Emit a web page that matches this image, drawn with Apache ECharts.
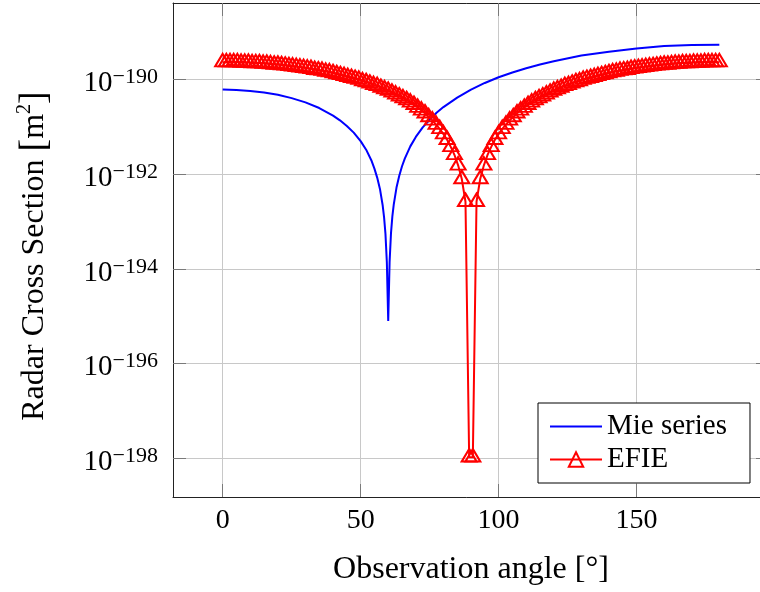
<!DOCTYPE html>
<html><head><meta charset="utf-8">
<script src="https://cdn.jsdelivr.net/npm/echarts@6/dist/echarts.min.js"></script>
<style>html,body{margin:0;padding:0;background:#fff}#c{width:760px;height:592px}</style>
</head><body><div id="c"></div>
<script>
// ---- data (RCS stored as log10 of the value in m^2) ----
const xTicks = [0, 50, 100, 150];
const yTickExponents = [-198, -196, -194, -192, -190];

const mieAngles = [0,5,10,15,20,25,30,35,40,42.5,45,47.5,50,52,54,55,56,57,58,58.5,59,59.5,60,60.5,61,61.5,62,63,64,65,66,68,70,72.5,75,77.5,80,85,90,95,100,105,110,115,120,130,140,150,160,170,180];
const mieLog10 = [-190.21,-190.22,-190.24,-190.27,-190.32,-190.39,-190.48,-190.60,-190.76,-190.86,-190.98,-191.12,-191.30,-191.48,-191.72,-191.88,-192.07,-192.31,-192.66,-192.91,-193.26,-193.86,-195.10,-193.85,-193.25,-192.89,-192.64,-192.28,-192.03,-191.83,-191.67,-191.41,-191.21,-191.01,-190.85,-190.70,-190.58,-190.38,-190.21,-190.07,-189.95,-189.85,-189.76,-189.68,-189.61,-189.49,-189.41,-189.34,-189.29,-189.27,-189.26];

const efieAngles = [0,1.333,2.667,4,5.333,6.667,8,9.333,10.667,12,
13.333,14.667,16,17.333,18.667,20,21.333,22.667,24,25.333,
26.667,28,29.333,30.667,32,33.333,34.667,36,37.333,38.667,
40,41.333,42.667,44,45.333,46.667,48,49.333,50.667,52,
53.333,54.667,56,57.333,58.667,60,61.333,62.667,64,65.333,
66.667,68,69.333,70.667,72,73.333,74.667,76,77.333,78.667,
80,81.333,82.667,84,85.333,86.667,88,89.333,
90.667,92,93.333,94.667,96,97.333,98.667,100,101.333,102.667,
104,105.333,106.667,108,109.333,110.667,112,113.333,114.667,116,
117.333,118.667,120,121.333,122.667,124,125.333,126.667,128,129.333,
130.667,132,133.333,134.667,136,137.333,138.667,140,141.333,142.667,
144,145.333,146.667,148,149.333,150.667,152,153.333,154.667,156,
157.333,158.667,160,161.333,162.667,164,165.333,166.667,168,169.333,
170.667,172,173.333,174.667,176,177.333,178.667,180];
const efieLog10 = [-189.63,-189.63,-189.63,-189.63,-189.63,-189.64,-189.64,-189.64,-189.65,-189.65,
-189.65,-189.66,-189.66,-189.67,-189.68,-189.68,-189.69,-189.70,-189.71,-189.72,
-189.73,-189.74,-189.75,-189.76,-189.77,-189.79,-189.80,-189.81,-189.83,-189.84,
-189.86,-189.88,-189.90,-189.92,-189.94,-189.96,-189.98,-190.00,-190.03,-190.05,
-190.08,-190.11,-190.13,-190.17,-190.20,-190.23,-190.27,-190.31,-190.35,-190.39,
-190.43,-190.48,-190.53,-190.59,-190.65,-190.71,-190.79,-190.86,-190.95,-191.04,
-191.15,-191.27,-191.42,-191.59,-191.81,-192.10,-192.58,-197.98,
-197.98,-192.58,-192.10,-191.81,-191.59,-191.42,-191.27,-191.15,
-191.04,-190.95,-190.86,-190.79,-190.71,-190.65,-190.59,-190.53,-190.48,-190.43,
-190.39,-190.35,-190.31,-190.27,-190.23,-190.20,-190.17,-190.13,-190.11,-190.08,
-190.05,-190.03,-190.00,-189.98,-189.96,-189.94,-189.92,-189.90,-189.88,-189.86,
-189.84,-189.83,-189.81,-189.80,-189.79,-189.77,-189.76,-189.75,-189.74,-189.73,
-189.72,-189.71,-189.70,-189.69,-189.68,-189.68,-189.67,-189.66,-189.66,-189.65,
-189.65,-189.65,-189.64,-189.64,-189.64,-189.63,-189.63,-189.63,-189.63,-189.63];

const seriesNames = ['Mie series', 'EFIE'];
const xName = 'Observation angle [°]';

// ---- chart ----
const FONT = 'Liberation Serif';
const X_MIN = -18, X_MAX = 198, Y_MIN = -198.82, Y_MAX = -188.38;
const chart = echarts.init(document.getElementById('c'), null, {renderer: 'canvas'});
const zip = (a, b) => a.map((v, i) => [v, b[i]]);
const tickStyle = {show: true, inside: true, length: 13, lineStyle: {color: '#7a7a7a', width: 1}};

chart.setOption({
  animation: false,
  backgroundColor: '#fff',
  grid: {left: 173, top: 3, right: -9, bottom: 95, containLabel: false, outerBoundsMode: 'none'},
  legend: {
    data: [{name: seriesNames[0], itemStyle: {opacity: 0}}, {name: seriesNames[1]}],
    orient: 'vertical', left: 538, top: 403,
    padding: [9, 23, 9, 11], itemWidth: 52, itemHeight: 18, itemGap: 4,
    borderColor: '#000', borderWidth: 1, backgroundColor: '#fff',
    textStyle: {fontFamily: FONT, fontSize: 29, color: '#000'}
  },
  xAxis: [{
    type: 'value', min: X_MIN, max: X_MAX, position: 'bottom',
    name: xName, nameLocation: 'middle', nameGap: 57,
    nameTextStyle: {fontFamily: FONT, fontSize: 32, color: '#000'},
    axisLine: {show: true, onZero: false, lineStyle: {color: '#222', width: 1}},
    axisTick: Object.assign({customValues: xTicks}, tickStyle),
    axisLabel: {customValues: xTicks, margin: 10, fontFamily: FONT, fontSize: 28, color: '#000'},
    splitLine: {show: true, lineStyle: {color: '#c8c8c8', width: 1}}
  }, {
    type: 'value', min: X_MIN, max: X_MAX, position: 'top',
    axisLine: {show: true, onZero: false, lineStyle: {color: '#222', width: 1}},
    axisTick: Object.assign({customValues: xTicks}, tickStyle),
    axisLabel: {show: false}, splitLine: {show: false}
  }],
  yAxis: [{
    type: 'value', min: Y_MIN, max: Y_MAX, position: 'left',
    name: '{t|Radar Cross Section }{br|[}{t|m}{sup|2}{br|]}',
    nameLocation: 'middle', nameGap: 118, nameRotate: 90,
    nameTextStyle: {
      fontFamily: FONT, fontSize: 32, color: '#000', padding: [0, 12, 0, 0],
      rich: {
        t: {fontFamily: FONT, fontSize: 32, lineHeight: 40, color: '#000'},
        br: {fontFamily: FONT, fontSize: 38, lineHeight: 40, color: '#000'},
        sup: {fontFamily: FONT, fontSize: 20, lineHeight: 26, verticalAlign: 'top', color: '#000'}
      }
    },
    axisLine: {show: true, onZero: false, lineStyle: {color: '#222', width: 1}},
    axisTick: Object.assign({customValues: yTickExponents}, tickStyle),
    axisLabel: {
      customValues: yTickExponents, margin: 15, padding: [8, 0, 0, 0],
      formatter: v => '{b|10}{s|\u2212' + Math.abs(Math.round(v)) + '}',
      rich: {
        b: {fontFamily: FONT, fontSize: 29, lineHeight: 34, color: '#000'},
        s: {fontFamily: FONT, fontSize: 22, lineHeight: 15, verticalAlign: 'top', color: '#000'}
      }
    },
    splitLine: {show: true, lineStyle: {color: '#c8c8c8', width: 1}}
  }, {
    type: 'value', min: Y_MIN, max: Y_MAX, position: 'right',
    axisLine: {show: true, onZero: false, lineStyle: {color: '#222', width: 1}},
    axisTick: Object.assign({customValues: yTickExponents}, tickStyle),
    axisLabel: {show: false}, splitLine: {show: false}
  }],
  series: [{
    name: seriesNames[0], type: 'line', data: zip(mieAngles, mieLog10),
    symbol: 'none', showSymbol: false, color: '#0000ff',
    lineStyle: {color: '#0000ff', width: 2}
  }, {
    name: seriesNames[1], type: 'line', data: zip(efieAngles, efieLog10),
    symbol: 'triangle', symbolSize: [15, 12.5], symbolOffset: [0, -2],
    showSymbol: true, showAllSymbol: true, color: '#ff0000',
    itemStyle: {color: 'rgba(255,255,255,0)', borderColor: '#ff0000', borderWidth: 2},
    lineStyle: {color: '#ff0000', width: 2}
  }]
});
</script>
</body></html>
